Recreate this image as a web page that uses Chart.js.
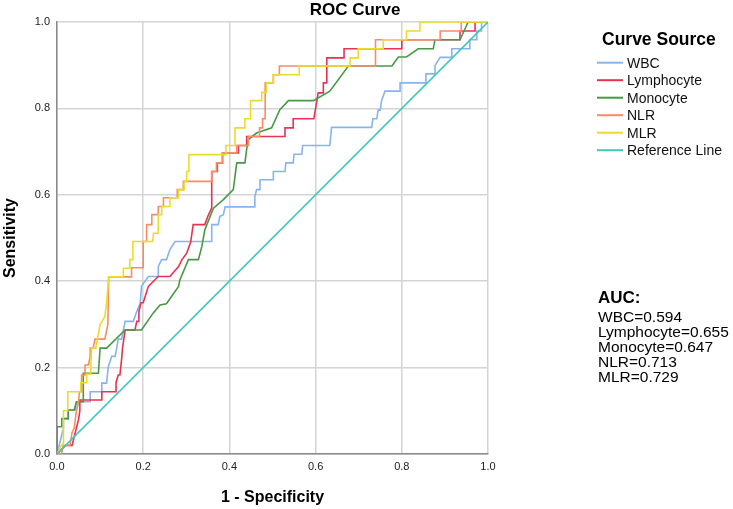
<!DOCTYPE html>
<html>
<head>
<meta charset="utf-8">
<script src="https://cdn.jsdelivr.net/npm/chart.js@4.4.1/dist/chart.umd.min.js"></script>
<style>
  html, body { margin: 0; padding: 0; background: #fff; }
  #wrap { width: 733px; height: 509px; }
</style>
</head>
<body>
<div id="wrap"><canvas id="roc" width="733" height="509"></canvas></div>
<script>
// ---- data: [1 - specificity, sensitivity] ----
var tickValues = [0, 0.2, 0.4, 0.6, 0.8, 1.0];
var seriesNames = ['WBC', 'Lymphocyte', 'Monocyte', 'NLR', 'MLR', 'Reference Line'];
var aucValues = [0.594, 0.655, 0.647, 0.713, 0.729];

var wbcPoints = [[0,0],[0.005,0.02],[0.01,0.04],[0.015,0.06],[0.015,0.082],[0.026,0.082],[0.026,0.102],[0.042,0.102],[0.046,0.121],[0.077,0.121],[0.077,0.144],[0.104,0.144],[0.104,0.164],[0.115,0.164],[0.119,0.202],[0.127,0.226],[0.135,0.226],[0.142,0.266],[0.15,0.266],[0.158,0.307],[0.177,0.307],[0.185,0.33],[0.193,0.349],[0.196,0.388],[0.212,0.411],[0.235,0.411],[0.235,0.434],[0.243,0.45],[0.254,0.45],[0.262,0.473],[0.274,0.492],[0.359,0.492],[0.359,0.531],[0.374,0.531],[0.378,0.55],[0.386,0.554],[0.39,0.572],[0.459,0.572],[0.459,0.595],[0.463,0.612],[0.471,0.612],[0.471,0.635],[0.502,0.635],[0.502,0.654],[0.529,0.654],[0.531,0.674],[0.548,0.674],[0.55,0.694],[0.568,0.694],[0.57,0.714],[0.633,0.714],[0.637,0.756],[0.73,0.756],[0.733,0.776],[0.742,0.776],[0.745,0.796],[0.75,0.796],[0.753,0.818],[0.761,0.84],[0.796,0.84],[0.796,0.859],[0.856,0.859],[0.856,0.88],[0.877,0.88],[0.877,0.899],[0.889,0.918],[0.916,0.918],[0.916,0.938],[0.958,0.938],[0.958,0.959],[0.974,0.959],[0.974,0.979],[0.985,0.979],[0.985,1],[1,1]];

var lymphPoints = [[0,0],[0.01,0.01],[0.02,0.02],[0.035,0.02],[0.04,0.04],[0.045,0.06],[0.05,0.08],[0.053,0.1],[0.053,0.125],[0.104,0.125],[0.104,0.144],[0.137,0.144],[0.137,0.165],[0.142,0.183],[0.146,0.183],[0.15,0.22],[0.152,0.245],[0.158,0.287],[0.181,0.287],[0.185,0.307],[0.19,0.307],[0.19,0.33],[0.195,0.35],[0.2,0.35],[0.212,0.388],[0.235,0.411],[0.262,0.411],[0.27,0.42],[0.282,0.434],[0.29,0.45],[0.301,0.465],[0.31,0.49],[0.316,0.531],[0.343,0.531],[0.35,0.55],[0.359,0.57],[0.359,0.654],[0.372,0.654],[0.372,0.674],[0.384,0.674],[0.384,0.697],[0.421,0.697],[0.421,0.714],[0.44,0.714],[0.44,0.735],[0.529,0.735],[0.529,0.755],[0.548,0.755],[0.548,0.776],[0.596,0.776],[0.606,0.836],[0.618,0.836],[0.618,0.859],[0.626,0.859],[0.626,0.917],[0.666,0.917],[0.666,0.938],[0.8,0.938],[0.8,0.959],[0.935,0.959],[0.935,0.979],[0.97,0.979],[0.97,1],[1,1]];

var monoPoints = [[0,0],[0,0.063],[0.011,0.063],[0.011,0.082],[0.026,0.082],[0.026,0.102],[0.04,0.102],[0.045,0.121],[0.061,0.121],[0.061,0.187],[0.096,0.187],[0.1,0.245],[0.115,0.245],[0.158,0.287],[0.196,0.287],[0.223,0.326],[0.239,0.345],[0.254,0.348],[0.282,0.388],[0.285,0.403],[0.305,0.45],[0.328,0.45],[0.336,0.48],[0.343,0.519],[0.363,0.569],[0.386,0.589],[0.409,0.612],[0.417,0.674],[0.436,0.674],[0.44,0.705],[0.444,0.728],[0.463,0.743],[0.498,0.755],[0.517,0.797],[0.537,0.818],[0.595,0.818],[0.633,0.84],[0.676,0.898],[0.777,0.898],[0.792,0.919],[0.811,0.919],[0.838,0.938],[0.873,0.938],[0.877,0.959],[0.935,0.959],[0.954,1],[1,1]];

var nlrPoints = [[0,0],[0.01,0],[0.015,0.02],[0.03,0.02],[0.035,0.05],[0.04,0.06],[0.045,0.1],[0.05,0.12],[0.052,0.144],[0.057,0.144],[0.057,0.183],[0.065,0.183],[0.065,0.206],[0.073,0.206],[0.077,0.226],[0.077,0.245],[0.084,0.245],[0.088,0.266],[0.111,0.266],[0.118,0.3],[0.12,0.41],[0.173,0.41],[0.173,0.431],[0.2,0.431],[0.2,0.492],[0.208,0.492],[0.208,0.531],[0.22,0.531],[0.22,0.554],[0.235,0.554],[0.235,0.573],[0.247,0.573],[0.247,0.593],[0.279,0.593],[0.279,0.612],[0.293,0.612],[0.293,0.631],[0.359,0.631],[0.359,0.654],[0.37,0.654],[0.37,0.674],[0.384,0.674],[0.384,0.697],[0.417,0.697],[0.417,0.714],[0.444,0.714],[0.444,0.735],[0.47,0.735],[0.47,0.755],[0.477,0.755],[0.477,0.776],[0.483,0.776],[0.483,0.859],[0.502,0.859],[0.502,0.878],[0.516,0.878],[0.516,0.898],[0.739,0.898],[0.739,0.959],[0.889,0.959],[0.889,0.979],[0.938,0.979],[0.938,1],[1,1]];

var mlrPoints = [[0,0],[0.01,0.02],[0.015,0.025],[0.015,0.1],[0.025,0.1],[0.025,0.144],[0.055,0.144],[0.055,0.165],[0.069,0.165],[0.069,0.185],[0.078,0.185],[0.08,0.245],[0.09,0.245],[0.1,0.3],[0.111,0.318],[0.115,0.35],[0.12,0.41],[0.154,0.41],[0.154,0.43],[0.169,0.43],[0.169,0.45],[0.176,0.45],[0.176,0.492],[0.222,0.492],[0.224,0.511],[0.235,0.511],[0.235,0.554],[0.243,0.554],[0.243,0.573],[0.262,0.573],[0.262,0.593],[0.282,0.593],[0.282,0.612],[0.295,0.612],[0.295,0.631],[0.301,0.631],[0.301,0.654],[0.306,0.654],[0.306,0.693],[0.392,0.693],[0.392,0.714],[0.413,0.714],[0.413,0.755],[0.436,0.755],[0.436,0.776],[0.449,0.776],[0.449,0.818],[0.475,0.818],[0.475,0.837],[0.486,0.837],[0.486,0.859],[0.502,0.859],[0.502,0.878],[0.562,0.878],[0.562,0.898],[0.68,0.898],[0.68,0.917],[0.699,0.917],[0.699,0.938],[0.757,0.938],[0.757,0.959],[0.811,0.959],[0.811,0.979],[0.842,0.979],[0.842,1],[1,1]];

var refPoints = [[0,0],[1,1]];

var seriesPoints = [wbcPoints, lymphPoints, monoPoints, nlrPoints, mlrPoints, refPoints];
var seriesColors = ['#88b4ee', '#e63350', '#479a45', '#f88d64', '#ecdc2a', '#45c8bc'];

var FONT = '"Liberation Sans", Arial, sans-serif';

function toXY(pts) {
  return pts.map(function (p) { return { x: p[0], y: p[1] }; });
}

var datasets = [];
for (var i = 0; i < seriesNames.length; i++) {
  datasets.push({
    label: seriesNames[i],
    data: toXY(seriesPoints[i]),
    borderColor: seriesColors[i],
    backgroundColor: seriesColors[i],
    borderWidth: 1.6,
    pointRadius: 0,
    tension: 0,
    fill: false,
    order: -i
  });
}

/**
 * title, legend box and AUC text on the right
 */
var sidePlugin = {
  id: 'side',
  afterDraw: function (chart) {
    var ctx = chart.ctx;
    ctx.save();
    ctx.fillStyle = '#000';
    ctx.textBaseline = 'alphabetic';

    ctx.font = 'bold 17px ' + FONT;
    ctx.textAlign = 'center';
    ctx.fillText('ROC Curve', 355, 15);

    ctx.textAlign = 'left';
    ctx.font = 'bold 17.5px ' + FONT;
    ctx.fillText('Curve Source', 602, 45);

    ctx.font = '14px ' + FONT;
    chart.data.datasets.forEach(function (ds, k) {
      var y = 62.7 + k * 17.5;
      ctx.strokeStyle = ds.borderColor;
      ctx.lineWidth = 2;
      ctx.beginPath();
      ctx.moveTo(597, y);
      ctx.lineTo(623, y);
      ctx.stroke();
      ctx.fillStyle = '#111';
      ctx.fillText(ds.label, 627, y + 5);
    });

    ctx.fillStyle = '#000';
    ctx.font = 'bold 17px ' + FONT;
    ctx.fillText('AUC:', 598, 303);
    ctx.font = '15.5px ' + FONT;
    for (var k = 0; k < aucValues.length; k++) {
      ctx.fillText(seriesNames[k] + '=' + aucValues[k].toFixed(3), 598, 321.7 + k * 15);
    }
    ctx.restore();
  }
};

function axis(titleText, titlePad) {
  return {
    type: 'linear',
    min: 0,
    max: 1,
    afterBuildTicks: function (scale) {
      scale.ticks = tickValues.map(function (v) { return { value: v }; });
    },
    ticks: {
      color: '#222',
      padding: 7,
      font: { family: FONT, size: 11 },
      callback: function (v) { return Number(v).toFixed(1); }
    },
    grid: { color: '#d4d4d4', lineWidth: 1.5, drawTicks: false },
    border: { color: '#8a8a8a', width: 1.5 },
    title: {
      display: true,
      text: titleText,
      color: '#000',
      font: { family: FONT, size: 16, weight: 'bold' },
      padding: titlePad
    }
  };
}

var xAxis = axis('1 - Specificity', { top: 0, bottom: 2 });
xAxis.ticks.padding = 6;
xAxis.afterFit = function (scale) { scale.height = 55; };

var yAxis = axis('Sensitivity', { top: 1, bottom: 0 });
yAxis.afterFit = function (scale) { scale.width = 57; };

new Chart(document.getElementById('roc').getContext('2d'), {
  type: 'line',
  data: { datasets: datasets },
  options: {
    responsive: false,
    devicePixelRatio: 1,
    animation: false,
    parsing: true,
    layout: { padding: { left: 0, right: 245, top: 22, bottom: 0 } },
    plugins: {
      legend: { display: false },
      tooltip: { enabled: false },
      title: { display: false }
    },
    scales: { x: xAxis, y: yAxis }
  },
  plugins: [sidePlugin]
});
</script>
</body>
</html>
